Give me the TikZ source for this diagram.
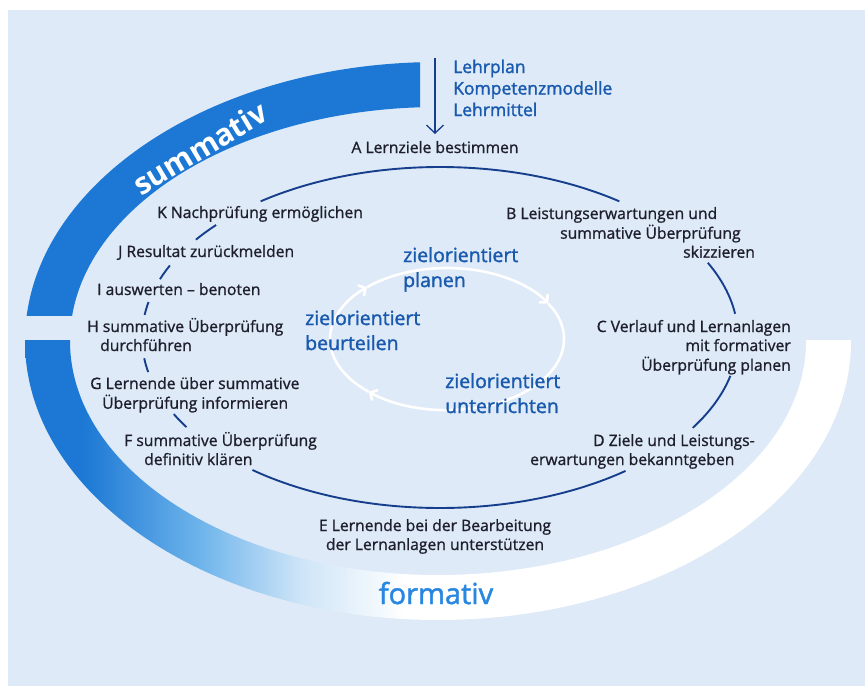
\documentclass[tikz,border=0pt]{standalone}
\usepackage{fontspec}
\setmainfont{Open Sans}
\newfontfamily\labfont{Open Sans}[FakeBold=1.0]
\newfontfamily\zfont{Open Sans}[FakeBold=1.6]
\usetikzlibrary{arrows.meta}
\definecolor{bg}{RGB}{222,234,247}
\definecolor{sumblue}{RGB}{28,120,212}
\definecolor{midblue}{RGB}{110,180,235}
\definecolor{lightblue}{RGB}{205,228,247}
\definecolor{navy}{RGB}{22,62,140}
\definecolor{labcol}{RGB}{30,30,45}
\definecolor{zielblue}{RGB}{25,90,175}
\definecolor{formblue}{RGB}{40,135,225}
\pgfdeclarehorizontalshading{formshade}{100bp}{color(0bp)=(sumblue); color(28.5bp)=(sumblue); color(35.6bp)=(midblue); color(41.6bp)=(lightblue); color(48bp)=(white); color(100bp)=(white)}
\newcommand\Ltab[1]{\begin{tabular}[t]{@{}l@{}}#1\end{tabular}}
\newcommand\Rtab[1]{\begin{tabular}[t]{@{}r@{}}#1\end{tabular}}
\newcommand\Ctab[1]{\begin{tabular}[t]{@{}c@{}}#1\end{tabular}}
\tikzset{
  lab/.style={inner sep=0pt, text=labcol, font=\labfont\fontsize{15.7}{19}\selectfont},
  zlab/.style={inner sep=0pt, text=zielblue, font=\zfont\fontsize{19.5}{25}\selectfont},
  ring/.style={draw=navy, line width=1.9pt},
  loopline/.style={draw=white, line width=2.6pt, -{Straight Barb[length=5.5pt,width=12pt]}},
}
\begin{document}
\begin{tikzpicture}[x=1pt,y=-1pt]
\useasboundingbox (0,0) rectangle (865,686);
\fill[white] (0,0) rectangle (865,686);
\fill[bg] (8,10) rectangle (865,686);
% summative band
\begin{scope}
  \clip (0,0) rectangle (420,315);
  \fill[sumblue,even odd rule] (438,341) ellipse [x radius=413,y radius=279]
        (438,341) ellipse [x radius=368,y radius=234];
\end{scope}
% formative band
\begin{scope}
  \clip (0,340) rectangle (865,686);
  \shade[shading=formshade,even odd rule] (438,341) ellipse [x radius=413,y radius=279]
        (438,341) ellipse [x radius=368,y radius=234];
\end{scope}
\node[rotate=31, inner sep=0pt, font=\bfseries\fontsize{30}{36}\selectfont, text=white] (summ) at (200,148) {summativ};
\node[anchor=base, inner sep=0pt, font=\zfont\fontsize{29}{34}\selectfont, text=formblue] (form) at (436,604) {formativ};
% main cycle
\begin{scope}[shift={(440,337.5)}]
  \foreach \a/\b in {-53/-127, -8/-26, 13/32, 51.5/129, -206.7/-211.7, -187/-191.7, -168/-172.4, -155/-160, -138.7/-145}
    \draw[ring] (\a:298 and 170.5) arc[start angle=\a, end angle=\b, x radius=298, y radius=170.5];
\end{scope}
% inner loop
\begin{scope}[shift={(447,339)}]
  \draw[loopline] (-133:117 and 71) arc[start angle=-133, end angle=-30, x radius=117, y radius=71];
  \draw[loopline] (-30:117 and 71) arc[start angle=-30, end angle=132, x radius=117, y radius=71];
  \draw[loopline] (132:117 and 71) arc[start angle=132, end angle=227, x radius=117, y radius=71];
\end{scope}
% input
\node[anchor=base west, inner sep=0pt, text=zielblue, font=\zfont\fontsize{17.5}{21.5}\selectfont] (lehr) at (453,73) {\Ltab{Lehrplan\\Kompetenzmodelle\\Lehrmittel}};
\coordinate (src) at (435,58);
\coordinate (dst) at (435,134);
\draw[navy, line width=1.3pt, -{Straight Barb[length=8pt,width=17pt]}] (src) -- (dst);
% labels
\node[lab,anchor=base] (A) at (435,153) {A Lernziele bestimmen};
\node[lab,anchor=base west] (B) at (506,219) {\Ltab{B Leistungserwartungen und\\\hspace*{54pt}summative Überprüfung\\\hspace*{177pt}skizzieren}};
\node[lab,anchor=base east] (C) at (791,332) {\Rtab{C Verlauf und Lernanlagen\\mit formativer\\Überprüfung planen}};
\node[lab,anchor=base west] (D) at (530,446) {\Ltab{\hspace*{63pt}D Ziele und Leistungs-\\erwartungen bekanntgeben}};
\node[lab,anchor=base] (E) at (435,531) {\Ctab{E Lernende bei der Bearbeitung\\der Lernanlagen unterstützen}};
\node[lab,anchor=base west] (F) at (124,446) {\Ltab{F summative Überprüfung\\\hspace*{20pt}definitiv klären}};
\node[lab,anchor=base west] (G) at (90,389) {\Ltab{G Lernende über summative\\\hspace*{12pt}Überprüfung informieren}};
\node[lab,anchor=base west] (H) at (87,332) {\Ltab{H summative Überprüfung\\\hspace*{13pt}durchführen}};
\node[lab,anchor=base west] (I) at (97,295) {I auswerten – benoten};
\node[lab,anchor=base west] (J) at (118,257) {J Resultat zurückmelden};
\node[lab,anchor=base west] (K) at (157,218) {K Nachprüfung ermöglichen};
% inner labels
\node[zlab,anchor=base west] (zp) at (403,262) {\Ltab{zielorientiert\\planen}};
\node[zlab,anchor=base west] (zb) at (305,325) {\Ltab{zielorientiert\\beurteilen}};
\node[zlab,anchor=base west] (zu) at (445,388) {\Ltab{zielorientiert\\unterrichten}};
\end{tikzpicture}
\end{document}
